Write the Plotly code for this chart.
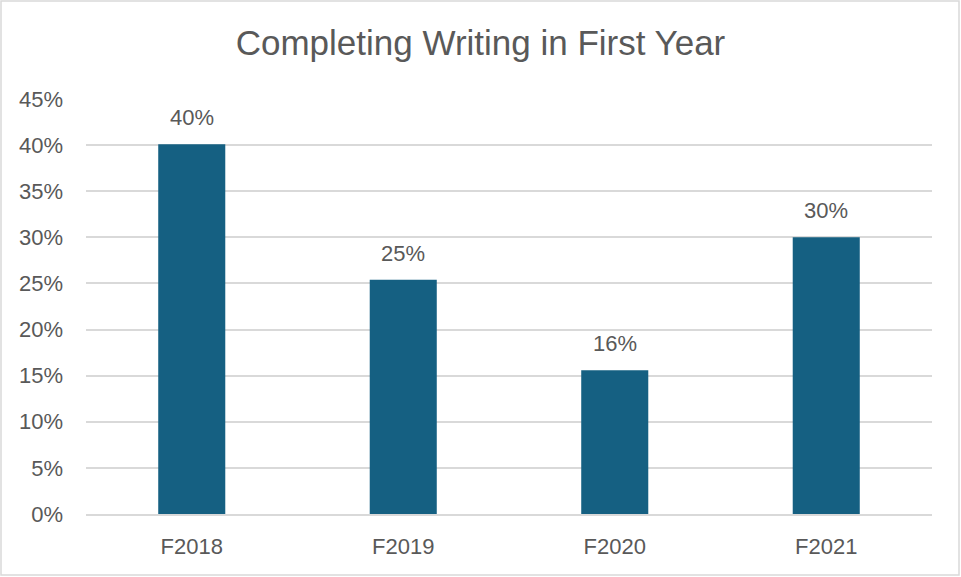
import plotly.graph_objects as go

categories = ["F2018", "F2019", "F2020", "F2021"]
values = [0.401, 0.254, 0.156, 0.300]
y_ticks = [0, 0.05, 0.10, 0.15, 0.20, 0.25, 0.30, 0.35, 0.40, 0.45]
y_tick_labels = [f"{t:.0%}" for t in y_ticks]
title_text = "Completing Writing in First Year"

BAR = "#156082"
TXT = "#595959"
GRID = "#D9D9D9"
FONT = "Liberation Sans, Arial, sans-serif"
FS = 22

W, H = 961, 577
ML, MR, MT, MB = 86, 29, 99, 63
PW, PH = W - ML - MR, H - MT - MB

fig = go.Figure()
fig.add_trace(go.Bar(
    x=categories, y=values,
    marker=dict(color=BAR, line=dict(width=0)),
    width=0.317,
    hoverinfo="skip",
))

for c, v in zip(categories, values):
    fig.add_annotation(
        x=c, y=v, text=f"{v:.0%}", showarrow=False,
        yanchor="bottom", yshift=12,
        font=dict(family=FONT, size=FS, color=TXT),
    )

fig.add_shape(
    type="rect", xref="paper", yref="paper",
    x0=(1 - ML) / PW, x1=(W - 2 - ML) / PW,
    y0=(MT + PH - (H - 2)) / PH, y1=(MT + PH - 1) / PH,
    line=dict(color=GRID, width=1.5), fillcolor="rgba(0,0,0,0)",
    layer="below",
)

fig.update_layout(
    width=W, height=H,
    margin=dict(l=ML, r=MR, t=MT, b=MB),
    paper_bgcolor="white", plot_bgcolor="white",
    showlegend=False,
    title=dict(
        text=title_text, x=0.5, xref="container", xanchor="center",
        y=1 - 43 / H, yref="container", yanchor="middle",
        font=dict(family=FONT, size=35, color=TXT),
    ),
    font=dict(family=FONT, size=FS, color=TXT),
    xaxis=dict(
        showgrid=False, showline=True, linecolor=GRID, linewidth=1.5,
        ticks="", ticklabelstandoff=12,
        tickfont=dict(family=FONT, size=FS, color=TXT),
    ),
    yaxis=dict(
        range=[0, 0.45], tickvals=y_ticks, ticktext=y_tick_labels,
        showgrid=True, gridcolor=GRID, gridwidth=1.5,
        zeroline=False, showline=False, ticks="", ticklabelstandoff=22,
        tickfont=dict(family=FONT, size=FS, color=TXT),
    ),
)

fig.write_html(
    "out.html",
    config={"displayModeBar": False},
    post_script="document.body.style.margin='0';document.body.style.padding='0';",
)
